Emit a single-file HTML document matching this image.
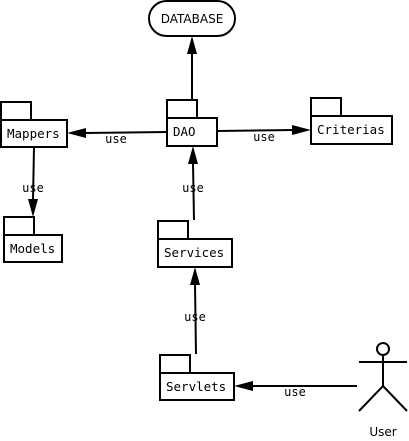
<!DOCTYPE html>
<html><head><meta charset="utf-8"><style>body{margin:0;background:#fff}svg{display:block}</style></head><body>
<svg width="409" height="441" viewBox="0 0 409 441" xmlns="http://www.w3.org/2000/svg">
<g fill="#fff" stroke="#000" stroke-width="2">
<rect x="149" y="1" width="86" height="35" rx="17.5"/>
<rect x="1" y="102" width="30" height="18"/><rect x="1" y="120" width="66" height="27"/>
<rect x="167" y="100" width="30" height="18"/><rect x="167" y="118" width="50" height="28"/>
<rect x="311" y="98" width="30" height="18"/><rect x="311" y="116" width="81" height="28"/>
<rect x="4" y="217" width="30" height="18"/><rect x="4" y="235" width="58" height="27"/>
<rect x="158" y="221" width="30" height="18"/><rect x="158" y="239" width="74" height="28"/>
<rect x="160" y="355" width="30" height="18"/><rect x="160" y="373" width="74" height="27"/>
</g>
<g stroke="#000" stroke-width="2" fill="none">
<line x1="192" y1="100" x2="192" y2="52"/>
<line x1="167" y1="132" x2="84" y2="133"/>
<line x1="217" y1="131" x2="294" y2="130"/>
<line x1="34" y1="147" x2="33" y2="200"/>
<line x1="194" y1="220" x2="193" y2="163"/>
<line x1="196" y1="354" x2="195" y2="284"/>
<line x1="357" y1="386" x2="251" y2="386"/>
<circle cx="383" cy="349" r="6" fill="#fff"/>
<line x1="383" y1="355" x2="383" y2="386"/>
<line x1="359" y1="362" x2="407" y2="362"/>
<polyline points="359,411 383,386 407,411"/>
</g>
<g fill="#000">
<polygon points="192,36 187,54 197,54"/>
<polygon points="67,133 86,128 86,138"/>
<polygon points="311,130 292,125 292,135"/>
<polygon points="33,217 28,199 38,199"/>
<polygon points="193,146 188,164 198,164"/>
<polygon points="195,267 190,285 200,285"/>
<polygon points="234,386 253,381 253,391"/>
</g>
<g font-family="DejaVu Sans Mono, Liberation Mono, monospace" font-size="12.5" fill="#000">
<text x="7" y="138">Mappers</text>
<text x="173" y="136">DAO</text>
<text x="317" y="134">Criterias</text>
<text x="10" y="253">Models</text>
<text x="164" y="257">Services</text>
<text x="166" y="391">Servlets</text>
<g text-anchor="middle" font-size="12">
<text x="116" y="143">use</text>
<text x="264" y="141">use</text>
<text x="33" y="192">use</text>
<text x="193" y="192">use</text>
<text x="195" y="321">use</text>
<text x="295" y="396">use</text>
</g>
</g>
<g font-family="DejaVu Sans, Liberation Sans, sans-serif" font-size="12" text-anchor="middle" fill="#000">
<text x="192" y="23">DATABASE</text>
<text x="383" y="436">User</text>
</g>
</svg>
</body></html>
